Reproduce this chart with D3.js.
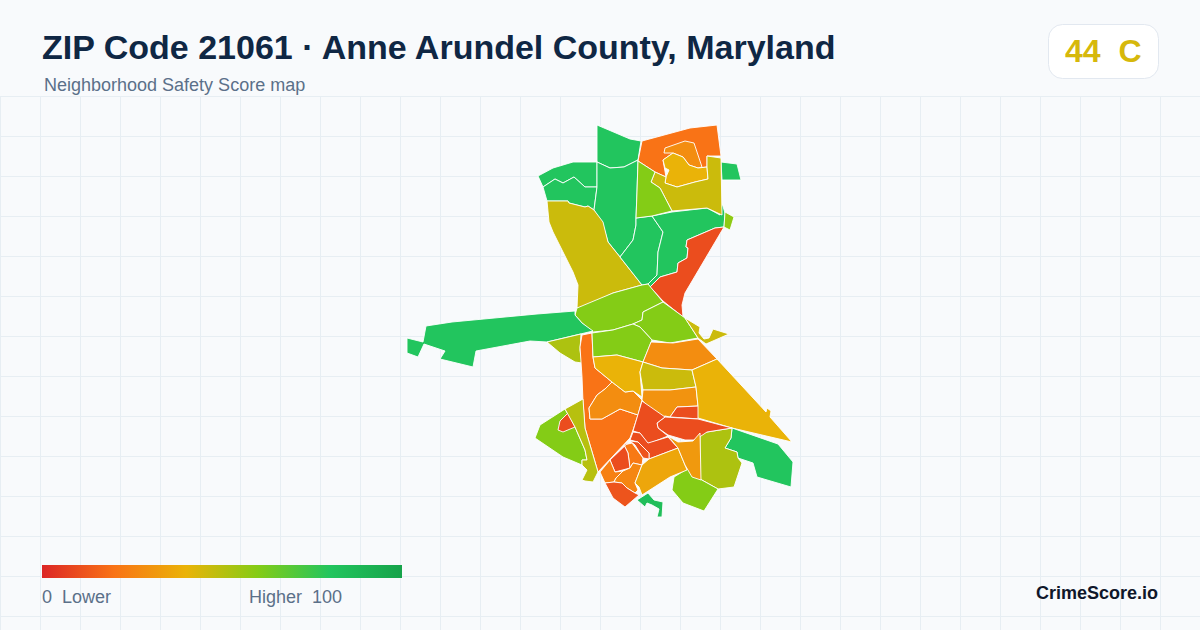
<!DOCTYPE html>
<html><head><meta charset="utf-8">
<script src="https://cdn.jsdelivr.net/npm/d3@7/dist/d3.min.js"></script>
<style>html,body{margin:0;padding:0;background:#f8fafc}svg{display:block}text{font-family:"Liberation Sans",Arial,sans-serif;white-space:pre}</style>
</head><body><svg id="c" width="1200" height="630"></svg>
<script>
const titleText = "ZIP Code 21061 · Anne Arundel County, Maryland";
const subtitleText = "Neighborhood Safety Score map";
const overallScore = 44, overallGrade = "C";
const brandText = "CrimeScore.io";
const legendLow = "0  Lower", legendHigh = "Higher  100";
const stopValues = [0,20,40,60,80,100];
const stopColors = ["#dc2626","#f97316","#eab308","#84cc16","#22c55e","#16a34a"];

// Neighbourhood scores, one per outline below
const tractScores = [80,80,80,80,46,80,80,10,58,80,20,28,40,46,60,60,60,80,52,20,28,60,40,28,46,30,10,40,80,52,60,10,10,10,12,22,10,24,26,12,36,32,84,60,10,50,46];
// Neighbourhood outlines, in map units
const tractOutlines = [
[[597,125],[630,139],[641,141],[638,160],[624,167],[610,168],[597,162]],
[[538,176],[553,168],[573,162],[597,162],[597,187],[585,187],[574,177],[563,183],[555,179],[543,187]],
[[543,187],[555,179],[563,183],[574,177],[585,187],[597,187],[594,210],[588,206],[585,207],[569,203],[568,201],[547,201]],
[[597,162],[610,168],[624,167],[638,160],[637,192],[636,218],[636,225],[633,240],[620,257],[608,242],[603,225],[594,210],[597,187]],
[[547,201],[568,201],[569,203],[585,207],[588,206],[594,210],[603,222],[608,242],[620,257],[642,285],[613,293],[587,306],[577,308],[578,285],[573,272],[553,232],[549,222]],
[[636,218],[652,216],[663,232],[658,252],[657,275],[648,284],[642,285],[620,257],[633,240],[636,225]],
[[652,216],[672,212],[707,208],[720,215],[722,203],[725,213],[724,227],[715,228],[687,240],[686,247],[688,248],[687,258],[678,263],[677,272],[660,277],[650,287],[648,284],[657,275],[658,252],[663,232]],
[[724,227],[715,228],[687,240],[686,247],[688,248],[687,258],[678,263],[677,272],[660,277],[650,287],[663,301],[683,317],[682,305],[685,293]],
[[725,212],[734,217],[730,230],[724,227]],
[[721,162],[737,164],[741,180],[722,180]],
[[642,141],[690,128],[717,125],[721,156],[707,156],[707,167],[698,168],[689,165],[683,157],[673,153],[663,160],[666,177],[655,172],[638,161]],
[[665,148],[685,141],[694,143],[702,167],[698,168],[689,165],[683,157],[673,153],[664,153]],
[[663,160],[673,153],[683,157],[689,165],[698,168],[707,167],[708,179],[695,182],[677,187],[665,183],[666,177],[669,170],[665,168]],
[[707,156],[721,158],[722,215],[707,208],[672,211],[660,188],[651,182],[655,172],[666,177],[665,183],[677,187],[695,182],[708,179],[707,167]],
[[638,161],[655,172],[651,182],[660,188],[672,211],[652,216],[636,218],[637,192]],
[[577,308],[613,293],[642,285],[648,284],[663,302],[643,312],[642,320],[633,324],[613,330],[593,332],[582,323],[575,315]],
[[663,302],[685,318],[698,338],[670,343],[652,340],[640,327],[633,324],[642,320],[643,312]],
[[575,311],[537,314],[452,322],[426,326],[423,342],[407,338],[407,353],[418,357],[424,344],[445,351],[440,359],[473,367],[476,351],[530,341],[547,342],[593,331],[582,323],[575,315]],
[[547,342],[581,334],[580,350],[582,363],[575,362],[560,353]],
[[582,335],[592,333],[593,357],[595,368],[612,382],[605,389],[597,395],[589,408],[590,419],[602,419],[620,409],[638,415],[633,430],[630,438],[598,472],[585,428],[583,402],[582,377],[580,347]],
[[612,382],[625,392],[633,391],[642,400],[638,415],[620,409],[602,419],[590,419],[589,408],[597,395],[605,389]],
[[592,333],[613,330],[633,324],[640,327],[652,340],[643,362],[617,355],[593,357]],
[[593,357],[617,355],[643,362],[640,372],[642,397],[633,391],[625,392],[612,382],[595,368]],
[[651,342],[673,343],[698,339],[717,359],[692,370],[662,368],[643,362]],
[[643,362],[662,368],[692,370],[696,387],[670,390],[643,390],[640,372]],
[[643,390],[670,390],[696,387],[698,406],[677,407],[670,417],[665,416],[658,419],[642,400]],
[[677,407],[699,406],[700,419],[670,417]],
[[692,370],[717,359],[766,412],[767,408],[771,411],[770,417],[792,442],[732,428],[698,418],[698,406],[696,387]],
[[732,428],[778,444],[793,462],[791,487],[757,477],[753,463],[738,458],[737,452],[725,448],[731,438]],
[[732,428],[731,438],[725,448],[737,452],[738,458],[742,463],[734,487],[718,489],[700,479],[700,433],[707,432]],
[[687,469],[700,479],[718,489],[704,511],[683,503],[672,490],[674,477]],
[[665,417],[698,419],[732,428],[707,432],[695,440],[685,440],[668,435],[658,428],[657,423]],
[[642,401],[665,417],[657,423],[658,428],[668,436],[648,444],[640,433],[633,431]],
[[633,432],[640,433],[648,443],[668,437],[678,448],[649,459],[649,453],[638,442],[630,440]],
[[630,441],[638,442],[649,453],[649,459],[643,458],[635,445]],
[[624,445],[632,443],[643,458],[642,465],[633,463],[630,468],[628,453]],
[[630,441],[624,445],[628,453],[630,468],[615,472],[610,460]],
[[610,460],[615,472],[623,471],[616,478],[614,482],[605,483],[600,472]],
[[630,468],[633,463],[642,465],[635,483],[638,490],[635,493],[627,488],[622,483],[614,482],[616,478],[623,471]],
[[605,483],[614,482],[622,483],[627,488],[635,493],[639,495],[625,507],[613,498]],
[[649,459],[678,448],[685,465],[687,470],[670,477],[642,495],[639,487],[635,483],[642,465]],
[[668,436],[678,442],[693,441],[700,433],[701,480],[692,477],[685,465],[678,448]],
[[637,500],[648,493],[654,500],[663,502],[662,517],[657,517],[659,509],[652,505],[647,503],[645,507]],
[[535,438],[540,425],[565,409],[575,427],[585,450],[587,460],[582,460],[582,465],[563,457]],
[[568,413],[575,427],[563,432],[558,430],[560,421]],
[[565,409],[583,399],[585,428],[598,472],[593,482],[585,481],[582,480],[587,470],[582,465],[582,460],[587,460],[585,450],[575,427]],
[[685,318],[700,327],[699,333],[704,339],[709,338],[713,329],[729,334],[706,344],[698,338]]
];

const W = 1200, H = 630;
const svg = d3.select("#c");
const color = d3.scaleLinear().domain(stopValues).range(stopColors).interpolate(d3.interpolateRgb);
const mapX = d3.scaleLinear().domain([400,800]).range([400,800]);
const mapY = d3.scaleLinear().domain([120,520]).range([120,520]);
const legendX = d3.scaleLinear().domain([0,100]).range([42,402]);

svg.append("rect").attr("width",W).attr("height",H).attr("fill","#f8fafc");

const grid = svg.append("g").attr("stroke","#e7eef3").attr("stroke-width",1).attr("shape-rendering","crispEdges");
grid.selectAll("line.v").data(d3.range(0,W+1,40)).join("line").attr("class","v")
  .attr("x1",d=>d+0.5).attr("x2",d=>d+0.5).attr("y1",96).attr("y2",H);
grid.selectAll("line.h").data(d3.range(96,H+1,40)).join("line").attr("class","h")
  .attr("x1",0).attr("x2",W).attr("y1",d=>d+0.5).attr("y2",d=>d+0.5);

const line = d3.line().x(d=>mapX(d[0])).y(d=>mapY(d[1])).curve(d3.curveLinearClosed);
svg.append("g").selectAll("path").data(tractOutlines).join("path")
  .attr("d",line).attr("fill",(d,i)=>color(tractScores[i]))
  .attr("stroke","#ffffff").attr("stroke-width",0.9).attr("stroke-linejoin","round");

svg.append("text").attr("x",42).attr("y",59).attr("font-size",34).attr("font-weight",700).attr("fill","#0f2744").text(titleText);
svg.append("text").attr("x",44).attr("y",91).attr("font-size",18).attr("fill","#5b7089").text(subtitleText);

svg.append("rect").attr("x",1048.5).attr("y",24.5).attr("width",110).attr("height",54).attr("rx",14)
  .attr("fill","#ffffff").attr("stroke","#e2e8f0");
svg.append("text").attr("x",1065).attr("y",62).attr("font-size",32).attr("font-weight",700)
  .attr("fill",color(overallScore)).text(overallScore+"  "+overallGrade);

const grad = svg.append("defs").append("linearGradient").attr("id","lg");
grad.selectAll("stop").data(stopValues).join("stop")
  .attr("offset",d=>d+"%").attr("stop-color",d=>color(d));
svg.append("rect").attr("x",legendX(0)).attr("y",565).attr("width",legendX(100)-legendX(0)).attr("height",13).attr("fill","url(#lg)");
svg.append("text").attr("x",42).attr("y",603).attr("font-size",18).attr("fill","#5b7089").text(legendLow);
svg.append("text").attr("x",249).attr("y",603).attr("font-size",18).attr("fill","#5b7089").text(legendHigh);
svg.append("text").attr("x",1158).attr("y",599).attr("text-anchor","end").attr("font-size",18).attr("font-weight",700).attr("fill","#0f172a").text(brandText);
</script></body></html>
